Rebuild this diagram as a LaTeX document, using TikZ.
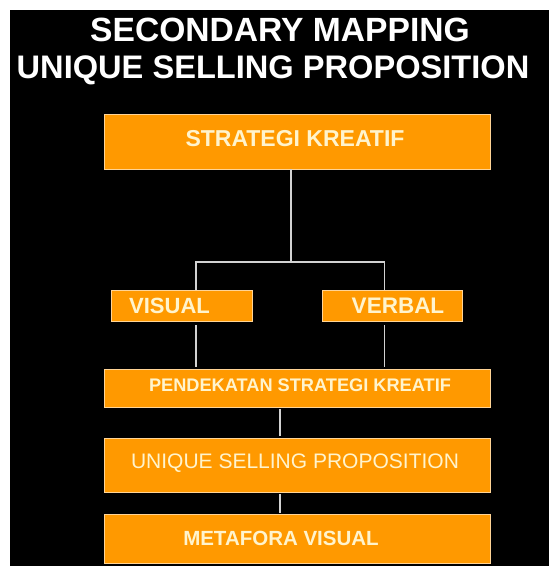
\documentclass[tikz,border=0pt]{standalone}
\usepackage{fontspec}
\setmainfont{Liberation Sans}
\definecolor{boxorange}{RGB}{255,153,0}
\definecolor{boxedge}{RGB}{255,212,150}
\definecolor{boxtext}{RGB}{255,244,205}
\definecolor{linegray}{RGB}{210,210,210}
\begin{document}
\begin{tikzpicture}[x=1pt,y=-1pt,
  box/.style={draw=boxedge, fill=boxorange, line width=0.8pt, inner sep=0pt, rectangle},
  boxlabel/.style={text=boxtext, anchor=base, inner sep=0pt},
  titletext/.style={text=white, anchor=base, inner sep=0pt},
  link/.style={draw=linegray, line width=1.2pt}]
\useasboundingbox (0,0) rectangle (553,566);
\fill[white] (0,0) rectangle (553,566);
\fill[black] (10,10) rectangle (549,566);

% title
\node[titletext, font=\fontsize{33.6}{34}\selectfont\bfseries] (t1) at (280,41.5) {SECONDARY MAPPING};
\node[titletext, font=\fontsize{32.6}{33}\selectfont\bfseries] (t2) at (273,78.5) {UNIQUE SELLING PROPOSITION};

% boxes
\node[box, minimum width=386pt, minimum height=55pt] (sk) at (297,141.5) {};
\node[box, minimum width=140.5pt, minimum height=31pt] (vis) at (181.75,305.5) {};
\node[box, minimum width=140pt, minimum height=31pt] (ver) at (392.5,305.5) {};
\node[box, minimum width=386.5pt, minimum height=38pt] (pend) at (297.25,388) {};
\node[box, minimum width=386pt, minimum height=54pt] (usp) at (297,465) {};
\node[box, minimum width=386pt, minimum height=49pt] (meta) at (297,538.5) {};

% labels
\node[boxlabel, font=\fontsize{23}{23}\selectfont\bfseries] (skt) at (295,146.5) {STRATEGI KREATIF};
\node[boxlabel, font=\fontsize{22}{22}\selectfont\bfseries] (vist) at (169.5,313) {VISUAL};
\node[boxlabel, font=\fontsize{22.5}{22}\selectfont\bfseries] (vert) at (398,313) {VERBAL};
\node[boxlabel, font=\fontsize{18.2}{18}\selectfont\bfseries] (pendt) at (300,391.5) {PENDEKATAN STRATEGI KREATIF};
\node[boxlabel, font=\fontsize{21}{21}\selectfont] (uspt) at (295,468) {UNIQUE SELLING PROPOSITION};
\node[boxlabel, font=\fontsize{20.5}{20}\selectfont\bfseries] (metat) at (281,545) {METAFORA VISUAL};

% connectors
\coordinate (j) at (291,262);
\coordinate (cl) at (196,262);
\coordinate (cr) at (384.5,262);
\coordinate (cm) at (280,0);
\draw[link] (sk.south -| j) -- (j);
\draw[link] (vis.north -| cl) -- (cl) -- (cr) -- (ver.north -| cr);
\draw[link, shorten <=4pt, shorten >=2pt] (vis.south -| cl) -- (pend.north -| cl);
\draw[link, shorten <=4pt, shorten >=2pt] (ver.south -| cr) -- (pend.north -| cr);
\draw[link, shorten <=2pt, shorten >=2pt] (pend.south -| cm) -- (usp.north -| cm);
\draw[link, shorten <=2pt, shorten >=1pt] (usp.south -| cm) -- (meta.north -| cm);
\end{tikzpicture}
\end{document}
